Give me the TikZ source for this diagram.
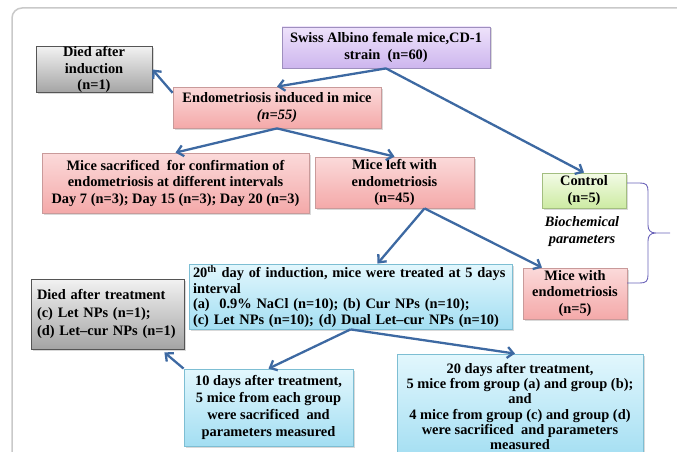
\documentclass[tikz,border=0pt]{standalone}
\usepackage{fontspec}
\setmainfont{Liberation Serif}
\usetikzlibrary{arrows.meta,shadows,calc}
\definecolor{arrowblue}{HTML}{3D69A2}
\definecolor{framegray}{HTML}{C9C9C9}
\definecolor{bracecol}{HTML}{6A62B8}
\definecolor{pinktop}{HTML}{FBDADA}
\definecolor{pinkbot}{HTML}{F4A9A9}
\definecolor{pinkline}{HTML}{C99A9A}
\definecolor{lavtop}{HTML}{EEE2FB}
\definecolor{lavbot}{HTML}{CDB6EE}
\definecolor{lavline}{HTML}{9E8FBE}
\definecolor{graytop}{HTML}{F2F2F2}
\definecolor{graybot}{HTML}{A4A4A4}
\definecolor{grayline}{HTML}{555555}
\definecolor{greentop}{HTML}{F3FBE6}
\definecolor{greenbot}{HTML}{CDEBA3}
\definecolor{greenline}{HTML}{A3BE80}
\definecolor{cyantop}{HTML}{E2F7FD}
\definecolor{cyanbot}{HTML}{A3DEF2}
\definecolor{cyanline}{HTML}{7DBED3}
\begin{document}
\begin{tikzpicture}[x=1pt,y=-1pt,
  box/.style={draw, line width=0.8pt, align=center, inner sep=0pt,
    font=\fontsize{14.4}{16.5}\selectfont\bfseries,
    drop shadow={shadow xshift=1.5pt, shadow yshift=-1.5pt, opacity=0.3}},
  pinkbox/.style={box, draw=pinkline, top color=pinktop, bottom color=pinkbot},
  lavbox/.style={box, draw=lavline, top color=lavtop, bottom color=lavbot},
  graybox/.style={box, draw=grayline, top color=graytop, bottom color=graybot},
  greenbox/.style={box, draw=greenline, top color=greentop, bottom color=greenbot},
  cyanbox/.style={box, draw=cyanline, top color=cyantop, bottom color=cyanbot},
  arr/.style={draw=arrowblue, line width=2.3pt, -{Straight Barb[length=6pt,width=11pt]}}
]
\useasboundingbox (0,0) rectangle (677,452);
\begin{scope}
\clip (0,0) rectangle (677,452);
% frame
\draw[framegray, line width=1.5pt, rounded corners=10pt] (690,8) -- (12,8) -- (12,470);

% nodes
\node[lavbox, minimum width=208pt, minimum height=41pt] (swiss) at (386,47.5)
  {Swiss Albino female mice,CD-1\\strain~~(n=60)};
\node[graybox, minimum width=116pt, minimum height=45pt] (died1) at (94,69.5)
  {Died after\\induction\\(n=1)};
\node[pinkbox, minimum width=208pt, minimum height=41pt] (endo) at (277,107.5)
  {Endometriosis induced in mice\\\textit{(n=55)}};
\node[pinkbox, minimum width=267pt, minimum height=60pt] (sacr) at (175.5,183)
  {Mice sacrificed~ for confirmation of\\endometriosis at different intervals\\Day 7 (n=3); Day 15 (n=3); Day 20 (n=3)};
\node[pinkbox, minimum width=159pt, minimum height=51pt] (left) at (394.5,182.5)
  {Mice left with\\endometriosis\\(n=45)};
\node[greenbox, minimum width=84pt, minimum height=35pt] (control) at (584,190.5)
  {Control\\(n=5)};
\node[font=\fontsize{14.4}{17}\selectfont\bfseries\itshape, align=center, inner sep=0pt] (bio) at (582,232)
  {Biochemical\\parameters};
\node[pinkbox, minimum width=104pt, minimum height=51pt] (mwe) at (575,293.5)
  {Mice with\\endometriosis\\(n=5)};
\node[cyanbox, minimum height=65pt, text width=315pt, inner xsep=4pt, align=left,
  font=\fontsize{14.4}{15.5}\selectfont\bfseries] (day20) at (350.5,296.5)
  {20\textsuperscript{th} day of induction, mice were treated at 5 days\\interval\\(a)~ 0.9\% NaCl (n=10); (b) Cur NPs (n=10);\\(c) Let NPs (n=10); (d) Dual Let--cur NPs (n=10)};
\node[graybox, minimum height=70pt, text width=141pt, inner xsep=6pt, align=left,
  font=\fontsize{14.4}{18}\selectfont\bfseries] (died2) at (107.5,314)
  {Died after treatment\\(c) Let NPs (n=1);\\(d) Let--cur NPs (n=1)};
\node[cyanbox, minimum width=169pt, minimum height=77pt,
  font=\fontsize{14.4}{17.3}\selectfont\bfseries] (ten) at (268.5,407.5)
  {10 days after treatment,\\5 mice from each group\\were sacrificed~ and\\parameters measured};
\node[cyanbox, minimum width=246pt, minimum height=105pt,
  font=\fontsize{14.4}{15.3}\selectfont\bfseries] (twenty) at (520,406.5)
  {20 days after treatment,\\5 mice from group (a) and group (b);\\and\\4 mice from group (c) and group (d)\\were sacrificed~ and parameters\\measured};

% connectors
\draw[arr] (swiss.south) -- (endo.north);
\draw[arr] (endo.172) -- (died1.east);
\draw[arr] (endo.south) -- (sacr.north);
\draw[arr] (endo.south) -- (left.north);
\draw[arr] (swiss.south) -- (control.north);
\draw[arr] ([xshift=30pt]left.south) -- ([xshift=27pt]day20.north);
\draw[arr] ([xshift=30pt]left.south) -- ([xshift=-33pt]mwe.north);
\draw[arr] (day20.south) -- (ten.north);
\draw[arr] (day20.south) -- ([xshift=-5pt]twenty.north);
\draw[arr] (ten.north west) -- ([xshift=-20pt,yshift=-3pt]died2.south east);

% brace
\draw[bracecol, line width=0.9pt]
  (627,183) -- (640,183) .. controls (646,183) and (648,185) .. (648,191)
  -- (648,225) .. controls (648,230) and (650,233) .. (656,233) -- (670,233)
  -- (656,233) .. controls (650,233) and (648,236) .. (648,241)
  -- (648,275) .. controls (648,281) and (646,283) .. (640,283) -- (627,283);
\end{scope}
\end{tikzpicture}
\end{document}
